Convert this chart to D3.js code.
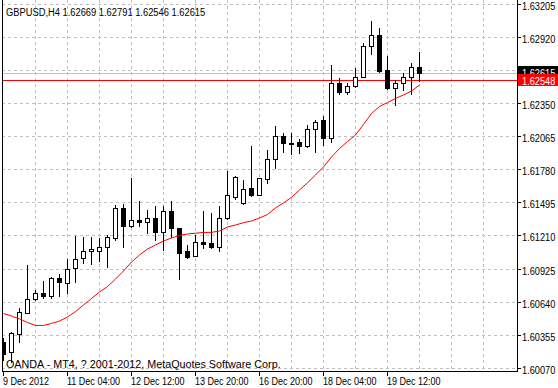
<!DOCTYPE html>
<html>
<head>
<meta charset="utf-8">
<script src="https://cdn.jsdelivr.net/npm/d3@7"></script>
<style>
  html, body { margin: 0; padding: 0; background: #ffffff; }
  svg { display: block; }
  text { font-family: "Liberation Sans", Arial, sans-serif; font-size: 11px; }
</style>
</head>
<body>
<svg id="chart" width="558" height="388"></svg>
<script>
// ---------- DATA ----------
const symbolTitle = "GBPUSD,H4";
const copyright = "OANDA - MT4, ? 2001-2012, MetaQuotes Software Corp.";

const open  = [1.60296,1.60213,1.60363,1.60549,1.60664,1.60716,1.60693,1.60845,1.60802,1.60931,
               1.61017,1.61078,1.61083,1.61112,1.61190,1.61448,1.61298,1.61345,1.61333,1.61362,
               1.61246,1.61425,1.61276,1.61080,1.61040,1.61160,1.61152,1.61117,1.61362,1.61543,
               1.61491,1.61620,1.61562,1.61698,1.61870,1.62071,1.62008,1.62019,1.61982,1.62128,
               1.62209,1.62056,1.62525,1.62452,1.62504,1.62581,1.62848,1.62941,1.62635,1.62480,
               1.62527,1.62576,1.62669];
const high  = [1.60331,1.60383,1.60587,1.60960,1.60744,1.60822,1.60854,1.60882,1.61009,1.61209,
               1.61203,1.61198,1.61190,1.61218,1.61476,1.61482,1.61712,1.61511,1.61433,1.61468,
               1.61468,1.61511,1.61278,1.61132,1.61218,1.61425,1.61405,1.61468,1.61769,1.61722,
               1.61692,1.61985,1.61709,1.61950,1.62157,1.62094,1.62094,1.62045,1.62165,1.62209,
               1.62243,1.62682,1.62573,1.62525,1.62654,1.62874,1.63064,1.62998,1.62760,1.62553,
               1.62613,1.62702,1.62791];
const low   = [1.60141,1.60124,1.60294,1.60544,1.60658,1.60678,1.60678,1.60695,1.60721,1.60811,
               1.60979,1.60966,1.60994,1.60945,1.61175,1.61117,1.61290,1.61296,1.61238,1.61175,
               1.61089,1.61198,1.60836,1.61017,1.61037,1.61103,1.61103,1.61083,1.61356,1.61526,
               1.61488,1.61558,1.61560,1.61663,1.61798,1.61935,1.61913,1.61922,1.61980,1.61935,
               1.61989,1.62019,1.62430,1.62435,1.62490,1.62579,1.62777,1.62626,1.62478,1.62342,
               1.62467,1.62430,1.62546];
const close = [1.60193,1.60371,1.60552,1.60667,1.60716,1.60697,1.60845,1.60811,1.60923,1.61011,
               1.61080,1.61097,1.61117,1.61198,1.61448,1.61296,1.61347,1.61333,1.61362,1.61246,
               1.61425,1.61276,1.61066,1.61031,1.61160,1.61143,1.61117,1.61362,1.61562,1.61718,
               1.61612,1.61560,1.61706,1.61873,1.62071,1.62008,1.62005,1.61982,1.62131,1.62194,
               1.62051,1.62525,1.62452,1.62504,1.62581,1.62848,1.62941,1.62631,1.62480,1.62525,
               1.62576,1.62668,1.62615];
const maValues = [1.60542,1.60520,1.60495,1.60464,1.60439,1.60439,1.60456,1.60477,1.60512,1.60559,
               1.60615,1.60671,1.60727,1.60774,1.60839,1.60908,1.60985,1.61046,1.61097,1.61132,
               1.61166,1.61192,1.61214,1.61227,1.61233,1.61240,1.61241,1.61252,1.61287,1.61304,
               1.61324,1.61339,1.61364,1.61395,1.61451,1.61494,1.61543,1.61606,1.61668,1.61735,
               1.61804,1.61890,1.61963,1.62023,1.62079,1.62170,1.62264,1.62325,1.62359,1.62394,
               1.62424,1.62458,1.62510];

const priceTicks = [1.60070,1.60355,1.60640,1.60925,1.61210,1.61495,1.61780,1.62065,1.62350,1.62635,1.62920,1.63205];
const timeTickBars = [0, 8, 16, 24, 32, 40, 48];
const timeLabels = ["9 Dec 2012","11 Dec 04:00","12 Dec 12:00","13 Dec 20:00","16 Dec 20:00","18 Dec 04:00","19 Dec 12:00"];
const gridBars = [4,8,12,16,20,24,28,32,36,40,44,48,52,56,60];

const bidPrice = 1.62615;
const levelPrice = 1.62548;

// ---------- LAYOUT ----------
const W = 558, H = 388;
const plotLeft = 2, plotRight = 517, plotTop = 0, plotBottom = 371;

const svg = d3.select("#chart");
svg.append("rect").attr("width", W).attr("height", H).attr("fill", "#fff");

const x = d3.scaleLinear().domain([0, 64]).range([3, 515]);
const y = d3.scaleLinear().domain([1.60070, 1.63205]).range([368.3, 4.3]);
const px = v => Math.round(x(v)) + 0.5;
const py = v => Math.floor(y(v)) + 0.5;

function label(g, str, tx, ty, fill, sx) {
  return g.append("text")
    .attr("transform", `translate(${tx},${ty}) scale(${sx || 0.82},1)`)
    .attr("fill", fill || "#000")
    .text(str);
}

svg.append("clipPath").attr("id", "plotclip")
  .append("rect").attr("x", plotLeft + 1).attr("y", plotTop)
  .attr("width", plotRight - plotLeft - 1).attr("height", plotBottom - plotTop);

const plot = svg.append("g").attr("clip-path", "url(#plotclip)")
  .attr("shape-rendering", "crispEdges");

// grid
plot.selectAll("line.hgrid").data(priceTicks).enter().append("line")
  .attr("class", "hgrid")
  .attr("x1", plotLeft).attr("x2", plotRight)
  .attr("y1", d => py(d)).attr("y2", d => py(d))
  .attr("stroke", "#c0c0c0").attr("stroke-dasharray", "3,3");
plot.selectAll("line.vgrid").data(gridBars).enter().append("line")
  .attr("class", "vgrid")
  .attr("x1", d => px(d)).attr("x2", d => px(d))
  .attr("y1", plotTop).attr("y2", plotBottom)
  .attr("stroke", "#c0c0c0").attr("stroke-dasharray", "3,3");

// bid line & horizontal level
plot.append("line")
  .attr("x1", plotLeft).attr("x2", plotRight)
  .attr("y1", py(bidPrice) + 1).attr("y2", py(bidPrice) + 1)
  .attr("stroke", "#c0c0c0");
plot.append("line")
  .attr("x1", plotLeft).attr("x2", plotRight)
  .attr("y1", py(levelPrice)).attr("y2", py(levelPrice))
  .attr("stroke", "#ff0000");

// candles
const bars = d3.range(open.length);
const cg = plot.selectAll("g.candle").data(bars).enter().append("g").attr("class", "candle");
cg.append("line")
  .attr("x1", i => px(i)).attr("x2", i => px(i))
  .attr("y1", i => Math.round(y(high[i]))).attr("y2", i => Math.round(y(low[i])) + 1)
  .attr("stroke", "#000");
cg.append("rect")
  .attr("x", i => px(i) - 2)
  .attr("y", i => Math.round(y(Math.max(open[i], close[i]))) + 0.5)
  .attr("width", 4)
  .attr("height", i => Math.max(0, Math.round(y(Math.min(open[i], close[i]))) - Math.round(y(Math.max(open[i], close[i])))))
  .attr("fill", i => close[i] >= open[i] ? "#fff" : "#000")
  .attr("stroke", "#000");

// moving average
const maLine = d3.line().x((d, i) => x(i) + 0.5).y(d => y(d));
svg.append("path").attr("clip-path", "url(#plotclip)")
  .attr("d", maLine(maValues))
  .attr("fill", "none").attr("stroke", "#ff0000").attr("stroke-width", 1);

// frame
const frame = svg.append("g").attr("shape-rendering", "crispEdges");
frame.append("line").attr("x1", plotLeft + 0.5).attr("x2", plotLeft + 0.5)
  .attr("y1", 0).attr("y2", plotBottom + 1).attr("stroke", "#000");
frame.append("line").attr("x1", plotRight + 0.5).attr("x2", plotRight + 0.5)
  .attr("y1", 0).attr("y2", plotBottom + 1).attr("stroke", "#000");
frame.append("line").attr("x1", plotLeft).attr("x2", plotRight + 1)
  .attr("y1", plotBottom + 0.5).attr("y2", plotBottom + 0.5).attr("stroke", "#000");

// price axis ticks + labels
const axisG = svg.append("g");
axisG.selectAll("line.ptick").data(priceTicks).enter().append("line")
  .attr("shape-rendering", "crispEdges")
  .attr("x1", plotRight).attr("x2", plotRight + 4)
  .attr("y1", d => py(d)).attr("y2", d => py(d))
  .attr("stroke", "#000");
priceTicks.forEach(p => label(axisG, p.toFixed(5), 522, py(p) + 5, "#000", 0.84));

// time axis ticks + labels
axisG.selectAll("line.ttick").data(timeTickBars).enter().append("line")
  .attr("shape-rendering", "crispEdges")
  .attr("x1", d => px(d)).attr("x2", d => px(d))
  .attr("y1", plotBottom).attr("y2", plotBottom + 5)
  .attr("stroke", "#000");
timeTickBars.forEach((b, k) => label(axisG, timeLabels[k], px(b) - 0.5, 385, "#000", 0.82));

// current price / level boxes
function priceBox(p, bg) {
  const cy = py(p);
  axisG.append("rect").attr("shape-rendering", "crispEdges")
    .attr("x", plotRight + 1).attr("y", Math.round(cy - 6.5)).attr("width", W - plotRight).attr("height", 12)
    .attr("fill", bg);
  label(axisG, p.toFixed(5), 522, cy + 4.5, "#fff", 0.84);
}
priceBox(bidPrice, "#000");
priceBox(levelPrice, "#ff0000");

// titles
label(svg, `${symbolTitle}  ${open[open.length-1].toFixed(5)} ${high[high.length-1].toFixed(5)} ${low[low.length-1].toFixed(5)} ${close[close.length-1].toFixed(5)}`, 6, 16, "#000", 0.85);
label(svg, copyright, 6, 368, "#000", 0.98);
</script>
</body>
</html>
